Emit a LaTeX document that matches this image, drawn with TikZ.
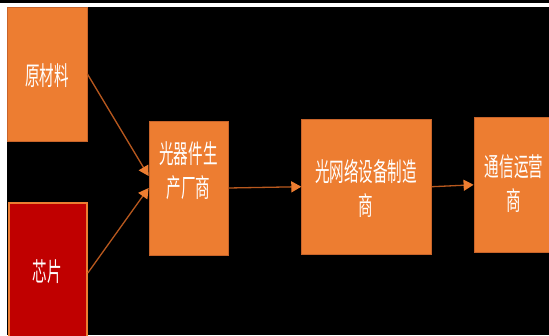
\documentclass[tikz,border=0pt]{standalone}
\usepackage{fontspec}
\newfontfamily\cjk{Noto Sans CJK SC}
\usetikzlibrary{arrows.meta}
\definecolor{boxorange}{HTML}{ED7D31}
\definecolor{edgeorange}{HTML}{C8642A}
\definecolor{linebrown}{HTML}{B8581E}
\definecolor{chipred}{HTML}{C00000}
\tikzset{
  obox/.style={draw=edgeorange, line width=0.8pt, fill=boxorange, inner sep=0pt},
  rbox/.style={draw=boxorange, line width=1.6pt, fill=chipred, inner sep=0pt},
  lbl/.style={text=white, inner sep=0pt, font=\cjk\fontsize{26}{34}\selectfont, align=center},
  conn/.style={draw=linebrown, line width=1.3pt, -{Triangle[length=10pt,width=11pt,color=boxorange]}}
}
\newcommand{\narrow}[1]{\scalebox{0.56}[1]{#1}}
\begin{document}
\begin{tikzpicture}[x=1pt,y=-1pt]
\useasboundingbox (0,0) rectangle (549,335);
\begin{scope}
\clip (0,0) rectangle (549,335);
\fill[black] (0,0) rectangle (549,335);
\fill[white] (0,3.3) rectangle (549,7);
\fill[white] (0,3.3) rectangle (7,335);
% boxes
\node[obox, minimum width=80pt, minimum height=134pt] (raw) at (47,74) {};
\node[rbox, minimum width=78pt, minimum height=140pt] (chip) at (48,273) {};
\node[obox, minimum width=79pt, minimum height=134pt] (opt) at (188.5,188) {};
\node[obox, minimum width=130pt, minimum height=135pt] (net) at (366.7,186.7) {};
\node[obox, minimum width=90pt, minimum height=135pt] (op) at (519,184.8) {};
% labels
\node[lbl] (traw) at (47,76) {\narrow{原材料}};
\node[lbl] (tchip) at (47,272) {\narrow{芯片}};
\node[lbl] (topt) at (188.5,170.5) {\narrow{光器件生}\\\narrow{产厂商}};
\node[lbl] (tnet) at (366,188) {\narrow{光网络设备制造}\\\narrow{商}};
\node[lbl] (top) at (514,184) {\narrow{通信运营}\\\narrow{商}};
% connectors
\draw[conn] (raw.east) -- ([yshift=12pt]opt.west);
\draw[conn] (chip.east) -- (opt.west);
\draw[conn] (opt.east) -- (net.west);
\draw[conn] (net.east) -- (op.west);
\end{scope}
\end{tikzpicture}
\end{document}
